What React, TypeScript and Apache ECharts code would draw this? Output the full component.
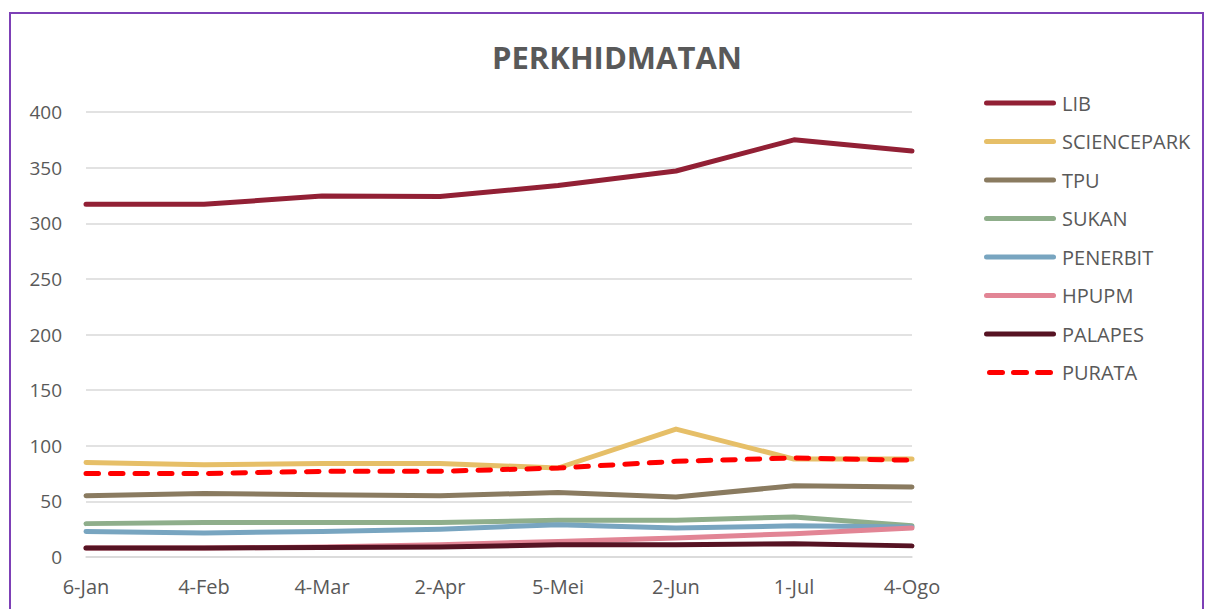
import React, { useEffect, useRef } from "react";
import * as echarts from "echarts";

const categories = ["6-Jan", "4-Feb", "4-Mar", "2-Apr", "5-Mei", "2-Jun", "1-Jul", "4-Ogo"];
const LIB = [317, 317, 324.5, 324, 334, 347, 375, 365];
const SCIENCEPARK = [85, 83, 84, 84, 80, 115, 88, 88];
const TPU = [55, 57, 56, 55, 58, 54, 64, 63];
const SUKAN = [30, 31, 31, 31, 33, 33, 36, 28];
const PENERBIT = [23, 21.5, 23, 25, 29, 26, 28, 27];
const HPUPM = [8, 8, 9, 11, 14, 17, 21, 26];
const PALAPES = [8, 8, 8.5, 9, 11, 11, 12, 10];
const PURATA = [75, 75, 77, 77, 80, 86, 89, 87];

const seriesDefs = [
  { name: "LIB", data: LIB, color: "#922035" },
  { name: "SCIENCEPARK", data: SCIENCEPARK, color: "#E6BF68" },
  { name: "TPU", data: TPU, color: "#8A7B60" },
  { name: "SUKAN", data: SUKAN, color: "#8FAE8B" },
  { name: "PENERBIT", data: PENERBIT, color: "#78A5C0" },
  { name: "HPUPM", data: HPUPM, color: "#E28595" },
  { name: "PALAPES", data: PALAPES, color: "#561323" },
  { name: "PURATA", data: PURATA, color: "#FF0000", dashed: true },
];

const FONT = "'Open Sans', 'Noto Sans', sans-serif";
const SOLID_ICON = "path://M2.5,0H69.5A2.5,2.5,0,0,1,69.5,5H2.5A2.5,2.5,0,0,1,2.5,0Z";
const DASH_ICON =
  "path://M2.5,0H15.5A2.5,2.5,0,0,1,15.5,5H2.5A2.5,2.5,0,0,1,2.5,0Z M26.5,0H39.5A2.5,2.5,0,0,1,39.5,5H26.5A2.5,2.5,0,0,1,26.5,0Z M50.5,0H63.5A2.5,2.5,0,0,1,63.5,5H50.5A2.5,2.5,0,0,1,50.5,0Z";

export default function App() {
  const ref = useRef<HTMLDivElement>(null);
  useEffect(() => {
    if (!ref.current) return;
    const chart = echarts.init(ref.current, null, { renderer: "svg" });
    chart.setOption({
      animation: false,
      backgroundColor: "#ffffff",
      title: {
        text: "PERKHIDMATAN",
        left: 612,
        textAlign: "center",
        top: 36,
        textStyle: { fontFamily: FONT, fontSize: 31, fontWeight: "bold", color: "#595959" },
      },
      graphic: [
        {
          type: "rect",
          shape: { x: 10, y: 13, width: 1193, height: 620 },
          style: { fill: "none", stroke: "#7D40B6", lineWidth: 2 },
          silent: true,
        },
      ],
      legend: {
        orient: "vertical",
        left: 979,
        top: 86,
        itemWidth: 72,
        itemHeight: 5,
        itemGap: 14.5,
        textStyle: {
          fontFamily: FONT,
          fontSize: 20,
          lineHeight: 24,
          color: "#595959",
          padding: [0, 0, 0, 1],
        },
        data: seriesDefs.map((s) => ({ name: s.name, icon: s.dashed ? DASH_ICON : SOLID_ICON })),
      },
      grid: { left: 86, right: 294, top: 112, bottom: 52, containLabel: false },
      xAxis: {
        type: "category",
        boundaryGap: false,
        data: categories,
        axisTick: { show: false },
        axisLine: { lineStyle: { color: "#d9d9d9", width: 1.5 } },
        axisLabel: { fontFamily: FONT, fontSize: 20, color: "#595959", margin: 19 },
      },
      yAxis: {
        type: "value",
        min: 0,
        max: 400,
        interval: 50,
        axisLine: { show: false },
        axisTick: { show: false },
        splitLine: { lineStyle: { color: "#d9d9d9", width: 1.5 } },
        axisLabel: { fontFamily: FONT, fontSize: 19, color: "#595959", margin: 24 },
      },
      series: seriesDefs.map((s) => ({
        name: s.name,
        type: "line",
        data: s.data,
        symbol: "none",
        color: s.color,
        itemStyle: { color: s.color },
        lineStyle: {
          color: s.color,
          width: 5,
          cap: "round",
          join: "round",
          type: s.dashed ? [12.5, 12] : "solid",
        },
      })),
    });
    return () => chart.dispose();
  }, []);
  return (
    <div
      ref={ref}
      style={{ position: "fixed", left: 0, top: 0, width: 1206, height: 609 }}
    />
  );
}
